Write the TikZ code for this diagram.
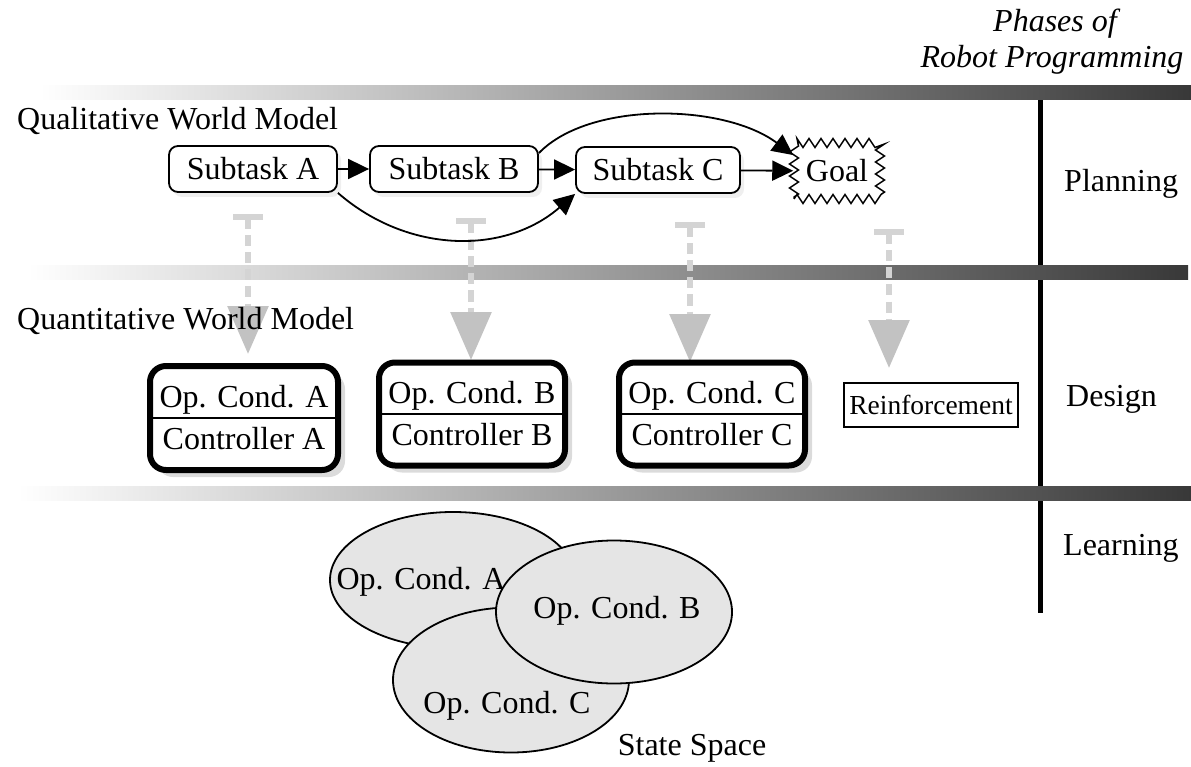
\documentclass[tikz,border=0pt]{standalone}
\usepackage{fontspec}
\setmainfont{Liberation Serif}
\usetikzlibrary{arrows.meta,shapes.geometric,shadows,decorations.pathmorphing}
\begin{document}
\begin{tikzpicture}[x=1pt,y=-1pt,
  txt/.style={font=\fontsize{32}{38}\selectfont, inner sep=0pt},
  phase/.style={txt, anchor=base west},
  band/.style={left color=white, right color=black!78, draw=none},
  subtask/.style={draw, line width=1.8pt, rounded corners=9pt, fill=white,
    minimum width=168pt, minimum height=46pt, inner sep=0pt,
    font=\fontsize{32}{38}\selectfont,
    drop shadow={shadow xshift=4pt, shadow yshift=-5pt, fill=black!12}},
  goalburst/.style={rectangle, draw, line width=1.5pt, fill=white,
    decorate, decoration={zigzag, segment length=12pt, amplitude=4.5pt},
    minimum width=86pt, minimum height=56pt, inner sep=0pt,
    font=\fontsize{32}{38}\selectfont},
  flow/.style={line width=1.8pt, -{Triangle[width=20pt,length=21pt]}},
  refine/.style={draw=black!17, line width=6pt, dash pattern=on 11pt off 6pt,
    {Bar[width=30pt]}-{Triangle[width=40pt,length=48pt,color=black!24]}},
  ctrl/.style={draw, line width=6pt, rounded corners=16pt, fill=white,
    align=center, font=\fontsize{32}{42}\selectfont, inner sep=0pt,
    drop shadow={shadow xshift=7pt, shadow yshift=-7pt, fill=black!28}},
  plainbox/.style={draw, line width=1.8pt, fill=white, inner sep=0pt,
    font=\fontsize{27.5}{32}\selectfont},
  region/.style={ellipse, draw, line width=1.8pt, fill=black!10, inner sep=0pt},
]
\useasboundingbox (0,0) rectangle (1191,767);

% phase axis
\draw[line width=5pt] (1040,98) -- (1040,613);
\shade[band] (40,86) rectangle (1191,100);
\shade[band] (28,266) rectangle (1188,280);
\shade[band] (18,486) rectangle (1191,500);

\node[txt, font=\fontsize{32}{38}\selectfont\itshape, anchor=base] (ph1) at (1055,32) {Phases of};
\node[txt, font=\fontsize{32}{38}\selectfont\itshape, anchor=base] (ph2) at (1052,68) {Robot Programming};
\node[phase] (plan) at (1064,192) {Planning};
\node[phase] (des) at (1066,406) {Design};
\node[phase] (learn) at (1063,555) {Learning};

% refinement arrows from plan to design
\coordinate (p1) at (248,214);  \coordinate (q1) at (248,354);
\coordinate (p2) at (471,218);  \coordinate (q2) at (471,360);
\coordinate (p3) at (690,222);  \coordinate (q3) at (690,362);
\coordinate (p4) at (889,229);  \coordinate (q4) at (889,368);
\draw[refine] (p1) -- (q1);
\draw[refine] (p2) -- (q2);
\draw[refine] (p3) -- (q3);
\draw[refine] (p4) -- (q4);

% qualitative world model
\node[phase] (qual) at (17,130) {Qualitative World Model};
\node[subtask] (A) at (253,169) {Subtask A};
\node[subtask] (B) at (454,169) {Subtask B};
\node[subtask, minimum width=164pt] (C) at (658,170) {Subtask C};
\node[goalburst] (G) at (837,171) {Goal};

\draw[flow] (A) -- (B);
\draw[flow] (B) -- (C);
\draw[flow] (C) -- (G);
\draw[flow] (A.south east) .. controls +(70,61) and +(-70,61) .. (C.south west);
\draw[flow] ([yshift=-8pt]B.north east) .. controls +(50,-52) and +(-70,-52) .. (G.160);

% quantitative world model
\node[phase] (quant) at (17,330) {Quantitative World Model};
\node[ctrl, minimum width=188pt, minimum height=104pt] (dA) at (244,418) {Op. Cond. A\\Controller A};
\node[ctrl, minimum width=186pt, minimum height=103pt] (dB) at (472,414) {Op. Cond. B\\Controller B};
\node[ctrl, minimum width=186pt, minimum height=103pt] (dC) at (712,414) {Op. Cond. C\\Controller C};
\draw[line width=1.8pt] (dA.west) -- (dA.east);
\draw[line width=1.8pt] (dB.west) -- (dB.east);
\draw[line width=1.8pt] (dC.west) -- (dC.east);
\node[plainbox, minimum width=174pt, minimum height=44pt] (R) at (931,405) {Reinforcement};

% state space
\node[region, minimum width=246pt, minimum height=136pt] (eA) at (453,580) {};
\node[txt, anchor=base] (tA) at (421,589) {Op. Cond. A};
\node[region, minimum width=236pt, minimum height=145pt] (eC) at (511,680) {};
\node[txt, anchor=base] (tC) at (507,713) {Op. Cond. C};
\node[region, minimum width=236pt, minimum height=143pt] (eB) at (614,612) {};
\node[txt, anchor=base] (tB) at (617,618) {Op. Cond. B};
\node[txt, anchor=base] (ss) at (692,755) {State Space};
\end{tikzpicture}
\end{document}
